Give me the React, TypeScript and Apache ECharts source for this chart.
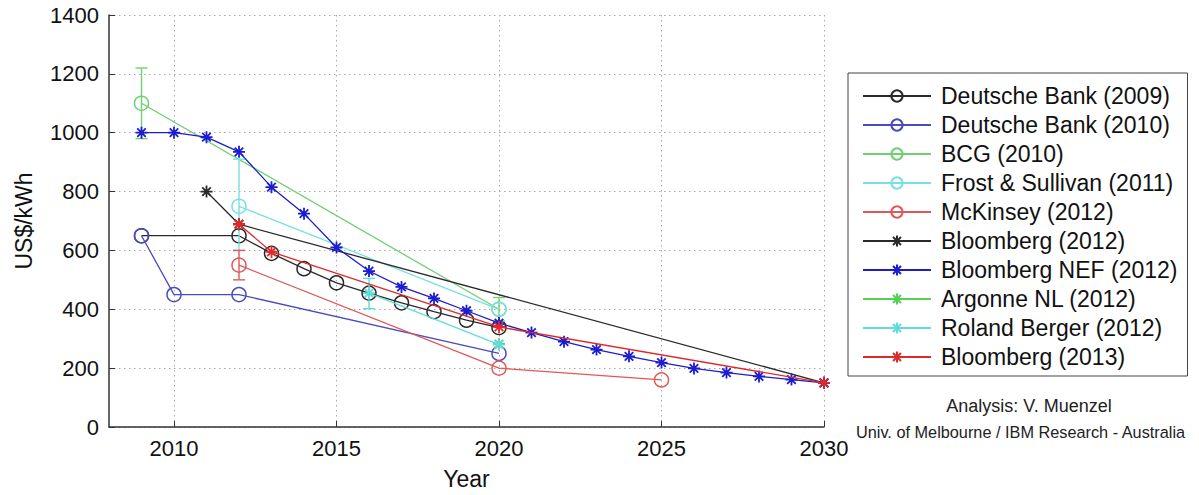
import React, { useEffect, useRef } from "react";
import * as echarts from "echarts";

// ---- data ----
const xTickValues = [2010, 2015, 2020, 2025, 2030];

const db2009Years = [2009, 2012, 2013, 2014, 2015, 2016, 2017, 2018, 2019, 2020];
const db2009Costs = [650, 650, 590, 538, 490, 455, 422, 392, 363, 338];

const db2010Years = [2009, 2010, 2012, 2020];
const db2010Costs = [650, 450, 450, 250];

const bcgYears = [2009, 2020];
const bcgCosts = [1100, 400];
const bcgErrLow = [980, 360];
const bcgErrHigh = [1220, 440];

const fsYears = [2012, 2020];
const fsCosts = [750, 400];
const fsErrYears = [2012];
const fsErrLow = [600];
const fsErrHigh = [910];

const mckYears = [2012, 2020, 2025];
const mckCosts = [550, 200, 160];
const mckErrYears = [2012];
const mckErrLow = [500];
const mckErrHigh = [600];

const bb2012Years = [2011, 2012, 2030];
const bb2012Costs = [800, 689, 150];

const nefYears = [2009, 2010, 2011, 2012, 2013, 2014, 2015, 2016, 2017, 2018, 2019, 2020, 2021, 2022, 2023, 2024, 2025, 2026, 2027, 2028, 2029, 2030];
const nefCosts = [1000, 1000, 985, 935, 815, 725, 610, 530, 476, 437, 395, 353, 321, 290, 263, 240, 219, 199, 185, 172, 161, 150];

const argYears = [2020];
const argCosts = [282];

const rbYears = [2016, 2020];
const rbCosts = [455, 280];
const rbErrYears = [2016];
const rbErrLow = [402];
const rbErrHigh = [505];

const bb2013Years = [2012, 2013, 2020, 2030];
const bb2013Costs = [689, 595, 340, 150];

const seriesNames = [
  "Deutsche Bank (2009)",
  "Deutsche Bank (2010)",
  "BCG (2010)",
  "Frost & Sullivan (2011)",
  "McKinsey (2012)",
  "Bloomberg (2012)",
  "Bloomberg NEF (2012)",
  "Argonne NL (2012)",
  "Roland Berger (2012)",
  "Bloomberg (2013)",
];

// ---- styles ----
const FONT = '"Liberation Sans", Arial, Helvetica, sans-serif';
const STAR = "path://M5,0L5,10M0,5L10,5M1.46,1.46L8.54,8.54M1.46,8.54L8.54,1.46";

const C_BLACK = "#2a2a2a";
const C_DB2010 = "#4b4bc0";
const C_GREEN = "#70d070";
const C_CYAN = "#78e0e0";
const C_RED = "#e05858";
const C_NEF = "#1c1cd0";
const C_ARG = "#55d055";
const C_RB = "#5fdcdc";
const C_RED2 = "#e02a2a";

function lineSeries(name: string, years: number[], costs: number[], color: string, marker: "o" | "*", z: number) {
  const isCircle = marker === "o";
  return {
    name,
    type: "line",
    data: years.map((y, i) => [y, costs[i]]),
    symbol: isCircle ? "circle" : STAR,
    symbolSize: isCircle ? 14 : 12,
    showAllSymbol: true,
    z,
    lineStyle: { color, width: 1.3 },
    itemStyle: {
      color: isCircle ? "rgba(255,255,255,0)" : color,
      borderColor: color,
      borderWidth: isCircle ? 1.5 : 1.8,
    },
    emphasis: { disabled: true },
  };
}

function errSeries(name: string, years: number[], lows: number[], highs: number[], color: string, z: number) {
  return {
    name,
    type: "custom",
    z,
    data: years.map((y, i) => [y, lows[i], highs[i]]),
    encode: { x: 0, y: [1, 2] },
    renderItem: (params: any, api: any) => {
      const x = api.value(0);
      const pLo = api.coord([x, api.value(1)]);
      const pHi = api.coord([x, api.value(2)]);
      const w = 6;
      const st = { stroke: color, lineWidth: 1.4 };
      return {
        type: "group",
        children: [
          { type: "line", shape: { x1: pLo[0], y1: pLo[1], x2: pHi[0], y2: pHi[1] }, style: st },
          { type: "line", shape: { x1: pLo[0] - w, y1: pLo[1], x2: pLo[0] + w, y2: pLo[1] }, style: st },
          { type: "line", shape: { x1: pHi[0] - w, y1: pHi[1], x2: pHi[0] + w, y2: pHi[1] }, style: st },
        ],
      };
    },
  };
}

export default function App() {
  const ref = useRef<HTMLDivElement>(null);

  useEffect(() => {
    if (!ref.current) return;
    const chart = echarts.init(ref.current, undefined, { renderer: "svg" });
    const gridLine = { show: true, lineStyle: { color: "#a8a8a8", type: [1.5, 3.5], width: 1 } };
    const plain = (v: number) => String(v);
    const option: any = {
      animation: false,
      backgroundColor: "#ffffff",
      grid: { left: 109, right: 375, top: 15, bottom: 62 },
      xAxis: {
        type: "value",
        min: 2008,
        max: 2030,
        name: "Year",
        nameLocation: "middle",
        nameGap: 40,
        nameTextStyle: { fontSize: 23, fontFamily: FONT, color: "#111" },
        axisLine: { show: true, lineStyle: { color: "#333", width: 1.5 } },
        axisTick: { show: true, inside: true, length: 6, customValues: xTickValues, lineStyle: { color: "#333" } },
        axisLabel: { customValues: xTickValues, formatter: plain, fontSize: 22, fontFamily: FONT, color: "#111", margin: 10 },
        splitLine: gridLine,
      },
      yAxis: {
        type: "value",
        min: 0,
        max: 1400,
        interval: 200,
        name: "US$/kWh",
        nameLocation: "middle",
        nameRotate: 90,
        nameGap: 74,
        nameTextStyle: { fontSize: 23, fontFamily: FONT, color: "#111" },
        axisLine: { show: true, lineStyle: { color: "#333", width: 1.5 } },
        axisTick: { show: true, inside: true, length: 6, lineStyle: { color: "#333" } },
        axisLabel: { formatter: plain, fontSize: 22, fontFamily: FONT, color: "#111", margin: 10 },
        splitLine: gridLine,
      },
      legend: {
        data: seriesNames,
        orient: "vertical",
        left: 848,
        top: 73,
        itemWidth: 68,
        itemHeight: 14,
        itemGap: 5,
        padding: [11, 10, 7, 14],
        borderColor: "#444",
        borderWidth: 1,
        backgroundColor: "#fff",
        selectedMode: false,
        textStyle: { fontSize: 23, fontFamily: FONT, color: "#111", lineHeight: 24, padding: [0, 0, 0, 5] },
      },
      graphic: [
        {
          type: "text",
          x: 1029,
          y: 406,
          style: { text: "Analysis: V. Muenzel", align: "center", verticalAlign: "middle", fontSize: 18, fontFamily: FONT, fill: "#222" },
        },
        {
          type: "text",
          x: 856,
          y: 432,
          style: { text: "Univ. of Melbourne / IBM Research - Australia", align: "left", verticalAlign: "middle", fontSize: 16.3, fontFamily: FONT, fill: "#222" },
        },
      ],
      series: [
        lineSeries(seriesNames[0], db2009Years, db2009Costs, C_BLACK, "o", 2),
        lineSeries(seriesNames[1], db2010Years, db2010Costs, C_DB2010, "o", 3),
        lineSeries(seriesNames[2], bcgYears, bcgCosts, C_GREEN, "o", 4),
        errSeries("BCG (2010) range", bcgYears, bcgErrLow, bcgErrHigh, C_GREEN, 4),
        lineSeries(seriesNames[3], fsYears, fsCosts, C_CYAN, "o", 5),
        errSeries("Frost & Sullivan (2011) range", fsErrYears, fsErrLow, fsErrHigh, C_CYAN, 5),
        lineSeries(seriesNames[4], mckYears, mckCosts, C_RED, "o", 6),
        errSeries("McKinsey (2012) range", mckErrYears, mckErrLow, mckErrHigh, C_RED, 6),
        lineSeries(seriesNames[5], bb2012Years, bb2012Costs, C_BLACK, "*", 7),
        lineSeries(seriesNames[6], nefYears, nefCosts, C_NEF, "*", 8),
        lineSeries(seriesNames[7], argYears, argCosts, C_ARG, "*", 9),
        lineSeries(seriesNames[8], rbYears, rbCosts, C_RB, "*", 10),
        errSeries("Roland Berger (2012) range", rbErrYears, rbErrLow, rbErrHigh, C_RB, 10),
        lineSeries(seriesNames[9], bb2013Years, bb2013Costs, C_RED2, "*", 11),
      ],
    };
    chart.setOption(option);
    return () => chart.dispose();
  }, []);

  return (
    <div
      ref={ref}
      style={{ position: "absolute", left: 0, top: 0, width: 1199, height: 495, background: "#fff" }}
    />
  );
}
